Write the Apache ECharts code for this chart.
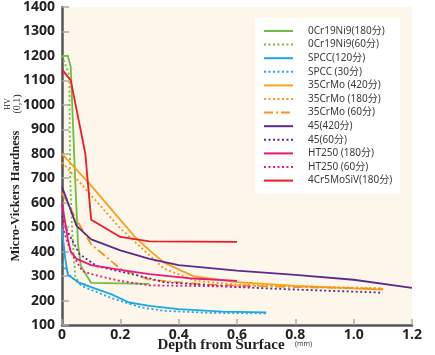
<!DOCTYPE html>
<html><head><meta charset="utf-8">
<script src="https://cdn.jsdelivr.net/npm/echarts@6/dist/echarts.min.js"></script>
<style>html,body{margin:0;padding:0;background:#fff}#c{width:435px;height:355px}</style>
</head><body><div id="c"></div>
<script>
// ---- data (depth mm, hardness HV) ----
const seriesNames = ['0Cr19Ni9(180分)','0Cr19Ni9(60分)','SPCC(120分)','SPCC (30分)','35CrMo (420分)','35CrMo (180分)','35CrMo (60分)','45(420分)','45(60分)','HT250 (180分)','HT250 (60分)','4Cr5MoSiV(180分)'];
const cr19Ni9_180 = [[0,1200],[0.02,1200],[0.03,1155],[0.035,1000],[0.045,700],[0.055,430],[0.065,340],[0.1,272],[0.3,268]];
const cr19Ni9_60 = [[0,1200],[0.01,1170],[0.025,1120],[0.028,700],[0.035,480],[0.045,300],[0.06,272],[0.09,262]];
const spcc_120 = [[0,500],[0.01,380],[0.02,305],[0.06,272],[0.1,255],[0.17,225],[0.23,192],[0.3,178],[0.4,165],[0.55,155],[0.7,152]];
const spcc_30 = [[0,350],[0.03,298],[0.07,258],[0.17,210],[0.27,172],[0.35,158],[0.5,150],[0.7,147]];
const crmo_420 = [[0,800],[0.1,670],[0.2,530],[0.25,460],[0.3,405],[0.35,355],[0.45,300],[0.6,275],[0.8,260],[1.1,245]];
const crmo_180 = [[0,765],[0.1,630],[0.2,495],[0.35,330],[0.46,280],[0.6,265],[0.8,258],[1.1,250]];
const crmo_60 = [[0,640],[0.05,530],[0.1,430],[0.2,330],[0.3,285],[0.5,265],[0.8,255],[1.1,248]];
const s45_420 = [[0,665],[0.05,505],[0.1,450],[0.2,405],[0.3,370],[0.4,345],[0.6,322],[0.8,305],[1.0,285],[1.2,252]];
const s45_60 = [[0,545],[0.02,480],[0.06,390],[0.12,340],[0.25,305],[0.35,275],[0.6,255],[0.8,245],[1.1,232]];
const ht250_180 = [[0,600],[0.02,450],[0.03,400],[0.05,370],[0.1,345],[0.2,325],[0.3,308],[0.45,290],[0.6,280]];
const ht250_60 = [[0,520],[0.01,470],[0.03,400],[0.07,320],[0.11,305],[0.2,280],[0.3,262],[0.65,256]];
const cr5_180 = [[0,1145],[0.03,1100],[0.08,800],[0.1,530],[0.2,460],[0.3,442],[0.6,440]];
const xTickLabels = ['0','0.2','0.4','0.6','0.8','1.0','1.2'];
const yTickLabels = ['100','200','300','400','500','600','700','800','900','1000','1100','1200','1300','1400'];

const seriesData = [cr19Ni9_180,cr19Ni9_60,spcc_120,spcc_30,crmo_420,crmo_180,crmo_60,s45_420,s45_60,ht250_180,ht250_60,cr5_180];
const colors = ['#6dbe45','#6dbe45','#1ea6e6','#1ea6e6','#f7a21b','#f7941d','#f7941d','#5a2a8e','#5a2a8e','#e8197d','#e8197d','#ec1c24'];
const DOT=[2,2.5], DASHDOT=[9,3,2,3];
const types = ['solid',DOT,'solid',DOT,'solid',DOT,DASHDOT,'solid',DOT,'solid',DOT,'solid'];

const chart = echarts.init(document.getElementById('c'));
const serif = '"Liberation Serif","DejaVu Serif",serif';
chart.setOption({
  animation:false,
  grid:{left:62,top:7,right:23,bottom:30,show:true,backgroundColor:'#fdf6ea',borderWidth:0},
  xAxis:{type:'value',min:0,max:1.2,interval:0.2,
    axisLine:{lineStyle:{color:'#555',width:2.5}},
    axisTick:{inside:true,length:6,lineStyle:{color:'#aaa',width:1.5}},
    axisLabel:{margin:3,color:'#231f20',fontSize:14,fontWeight:'bold',fontFamily:'"Open Sans",sans-serif',
      formatter:(v)=>xTickLabels[Math.round(v/0.2)]},
    splitLine:{show:false}},
  yAxis:{type:'value',min:100,max:1400,interval:100,
    axisLine:{show:true,lineStyle:{color:'#555',width:2.5}},
    axisTick:{show:true,inside:true,length:7,lineStyle:{color:'#aaa',width:1.5}},
    axisLabel:{margin:7,color:'#231f20',fontSize:14,fontWeight:'bold',fontFamily:'"Open Sans",sans-serif',
      formatter:(v)=>yTickLabels[Math.round((v-100)/100)]},
    splitLine:{show:false}},
  legend:{orient:'vertical',left:255,top:18,padding:[8,8,8,8],itemGap:3.6,itemWidth:29,itemHeight:12,
    backgroundColor:'#fff',
    itemStyle:{opacity:0},
    textStyle:{fontSize:10,color:'#3a3a3a',fontFamily:'"Noto Sans","Noto Sans CJK SC",sans-serif',padding:[0,0,0,10]},
    data:seriesNames},
  series:seriesNames.map((n,i)=>({name:n,type:'line',data:seriesData[i],symbol:'none',
    itemStyle:{color:colors[i]},
    lineStyle:{color:colors[i],width:1.8,type:types[i]}})),
  graphic:[
    {type:'text',x:16,y:196,rotation:Math.PI/2,style:{text:'Micro-Vickers Hardness',font:'bold 12.5px '+serif,fill:'#231f20',align:'center',verticalAlign:'middle'}},
    {type:'text',x:8,y:104,rotation:Math.PI/2,style:{text:'HV',font:'8px '+serif,fill:'#231f20',align:'center',verticalAlign:'middle'}},
    {type:'text',x:17,y:104,rotation:Math.PI/2,style:{text:'(0,1)',font:'10px '+serif,fill:'#231f20',align:'center',verticalAlign:'middle'}},
    {type:'text',x:221,y:345,style:{text:'Depth from Surface',font:'bold 15px '+serif,fill:'#231f20',align:'center',verticalAlign:'middle'}},
    {type:'text',x:295,y:344,style:{text:'(mm)',font:'7px "Open Sans",sans-serif',fill:'#231f20',align:'left',verticalAlign:'middle'}}
  ]
});
</script></body></html>
